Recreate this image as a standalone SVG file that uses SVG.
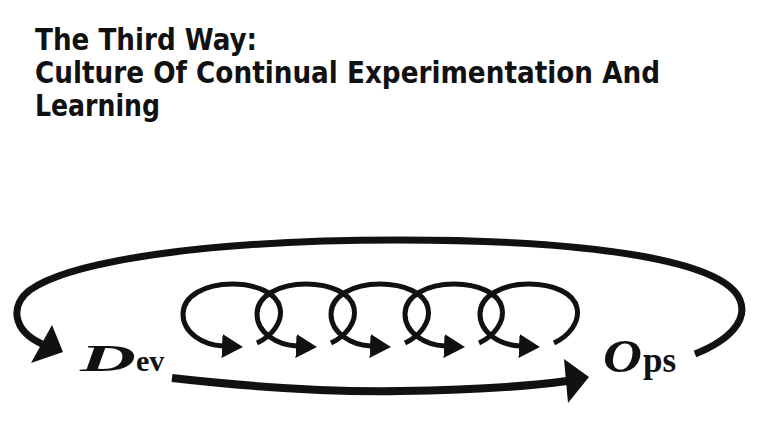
<svg xmlns="http://www.w3.org/2000/svg" width="765" height="440" viewBox="0 0 765 440">
  <style>
    .title { font-family: "DejaVu Sans Condensed", "DejaVu Sans", sans-serif; font-weight: bold; font-size: 30px; fill: #111; }
    .lbl { font-family: "Liberation Serif", serif; font-weight: bold; fill: #111; }
    .cap { font-style: italic; }
    .loop { fill: none; stroke: #111; stroke-width: 5; }
    .big { fill: none; stroke: #111; stroke-width: 7; }
    .shaft { fill: none; stroke: #111; stroke-width: 8; }
    .head { fill: #111; }
  </style>
  <defs>
    <marker id="ah" markerUnits="userSpaceOnUse" markerWidth="22" markerHeight="26" refX="1" refY="13" orient="auto" viewBox="0 0 22 26">
      <path d="M0,1 L21,13 L0,25 z" fill="#111"/>
    </marker>
    <path id="curl" class="loop" d="M 257 343 C 272 336, 283 322, 280 308 C 277 293, 256 284, 232 284 C 205 284, 183 296, 183 314 C 183 333, 203 345, 223 346" marker-end="url(#ah)"/>
  </defs>

  <g id="title">
    <text class="title" x="35" y="50" textLength="222" lengthAdjust="spacingAndGlyphs">The Third Way:</text>
    <text class="title" x="35" y="83" textLength="625" lengthAdjust="spacingAndGlyphs">Culture Of Continual Experimentation And</text>
    <text class="title" x="35" y="116" textLength="125" lengthAdjust="spacingAndGlyphs">Learning</text>
  </g>

  <g id="dev">
    <text class="lbl" x="80" y="371"><tspan class="cap" font-size="38" textLength="56" lengthAdjust="spacingAndGlyphs">D</tspan><tspan x="136" font-size="30">ev</tspan></text>
  </g>

  <g id="ops">
    <text class="lbl" x="603" y="372"><tspan class="cap" font-size="46" textLength="39" lengthAdjust="spacingAndGlyphs">O</tspan><tspan x="643" font-size="35">ps</tspan></text>
  </g>

  <g id="connectors">
    <path class="big" d="M 695 354 C 730 340, 748 320, 740 300 C 725 262, 600 240, 400 240 C 200 240, 70 262, 30 290 C 10 305, 12 330, 42 344"/>
    <polygon class="head" points="31,363 52,325 63,352"/>
    <path class="shaft" d="M 172 378 C 260 388, 340 392, 400 391 C 480 390, 530 386, 567 381"/>
    <polygon class="head" points="564,359 589,377 568,403"/>
    <use href="#curl"/>
    <use href="#curl" transform="translate(74,0)"/>
    <use href="#curl" transform="translate(148,0)"/>
    <use href="#curl" transform="translate(222,0)"/>
    <use href="#curl" transform="translate(297,0)"/>
  </g>
</svg>
